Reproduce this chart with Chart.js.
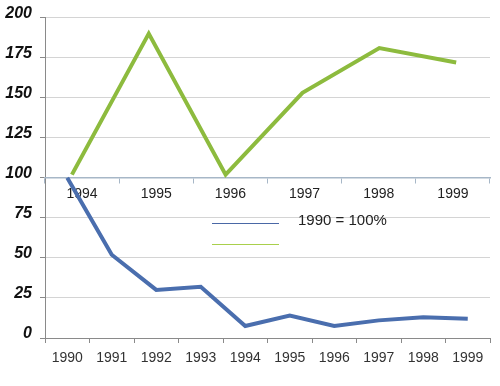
<!DOCTYPE html>
<html>
<head>
<meta charset="utf-8">
<script src="https://cdn.jsdelivr.net/npm/chart.js@4/dist/chart.umd.min.js"></script>
<style>
  html, body { margin: 0; padding: 0; background: #fff; }
  #wrap { width: 500px; height: 386px; }
</style>
</head>
<body>
<div id="wrap"><canvas id="chart"></canvas></div>
<script>
// series (1990 = 100%)
const years = ['1990', '1991', '1992', '1993', '1994', '1995', '1996', '1997', '1998', '1999'];
const indexValues = [100, 52, 30, 32, 7.5, 14, 7.5, 11, 13, 12];
const laterYears = ['1994', '1995', '1996', '1997', '1998', '1999'];
const laterValues = [102, 190, 102, 153, 181, 172];
const yTicks = [0, 25, 50, 75, 100, 125, 150, 175, 200];
const legendNote = '1990 = 100%';

const FONT = '"Liberation Sans", Arial, sans-serif';
const BLUE = '#4A6EAE', GREEN = '#8DBB3E';

// small legend drawn inside the plot, like the original
const lineLegend = {
  id: 'lineLegend',
  afterDraw(chart) {
    const ctx = chart.ctx;
    const x = 212, y = 223, gap = 21, len = 67;
    chart.data.datasets.forEach((ds, i) => {
      const yy = Math.round(y + i * gap) + 0.5;
      ctx.save();
      ctx.strokeStyle = ds.legendColor || ds.borderColor;
      ctx.lineWidth = 1;
      ctx.beginPath();
      ctx.moveTo(x, yy);
      ctx.lineTo(x + len, yy);
      ctx.stroke();
      if (ds.label) {
        ctx.fillStyle = '#222';
        ctx.font = '15px ' + FONT;
        ctx.textBaseline = 'middle';
        ctx.fillText(ds.label, x + 86, yy - 3);
      }
      ctx.restore();
    });
  }
};

new Chart(document.getElementById('chart'), {
  type: 'line',
  data: {
    labels: years,
    datasets: [
      {
        label: legendNote,
        data: indexValues,
        borderColor: BLUE,
        legendColor: '#4A68A6',
        borderWidth: 4,
        pointRadius: 0,
        tension: 0,
        xAxisID: 'x',
        yAxisID: 'y'
      },
      {
        label: '',
        data: laterValues.map((v, i) => ({ x: i, y: v })),
        borderColor: GREEN,
        legendColor: '#A9D04C',
        borderWidth: 4,
        pointRadius: 0,
        tension: 0,
        xAxisID: 'x2',
        yAxisID: 'y'
      }
    ]
  },
  options: {
    responsive: true,
    maintainAspectRatio: false,
    animation: false,
    layout: { padding: { top: 14, right: 10, left: 0, bottom: 0 } },
    plugins: { legend: { display: false }, tooltip: { enabled: false } },
    scales: {
      y: {
        min: 0,
        max: 200,
        afterBuildTicks: s => { s.ticks = yTicks.map(v => ({ value: v })); },
        afterFit: s => { s.width = 45; },
        border: { color: '#8a8a8a', width: 1 },
        grid: { color: '#d4d4d4', tickColor: '#8a8a8a', tickLength: 5 },
        ticks: {
          padding: 8,
          labelOffset: -4,
          color: '#111',
          font: { family: FONT, size: 16, weight: 'bold', style: 'italic' }
        }
      },
      x: {
        type: 'category',
        position: 'bottom',
        offset: true,
        afterFit: s => { s.height = 48; },
        border: { color: '#8a8a8a', width: 1 },
        grid: { offset: true, drawOnChartArea: false, tickColor: '#8a8a8a', tickLength: 5 },
        ticks: { padding: 7, color: '#333', maxRotation: 0, autoSkip: false, font: { family: FONT, size: 14 } }
      },
      // hidden axis that places the later series
      x2: {
        type: 'linear',
        display: false,
        min: -0.35,
        max: 5.44
      },
      // labelled axis for the later years, sitting on the 100 line
      x3: {
        type: 'category',
        labels: laterYears,
        position: { y: 100 },
        offset: true,
        border: { color: '#A7B7C7', width: 1.5 },
        grid: { offset: true, drawOnChartArea: false, tickColor: '#A7B7C7', tickLength: 5 },
        ticks: { padding: 3, color: '#222', maxRotation: 0, autoSkip: false, font: { family: FONT, size: 14 } }
      }
    }
  },
  plugins: [lineLegend]
});
</script>
</body>
</html>
